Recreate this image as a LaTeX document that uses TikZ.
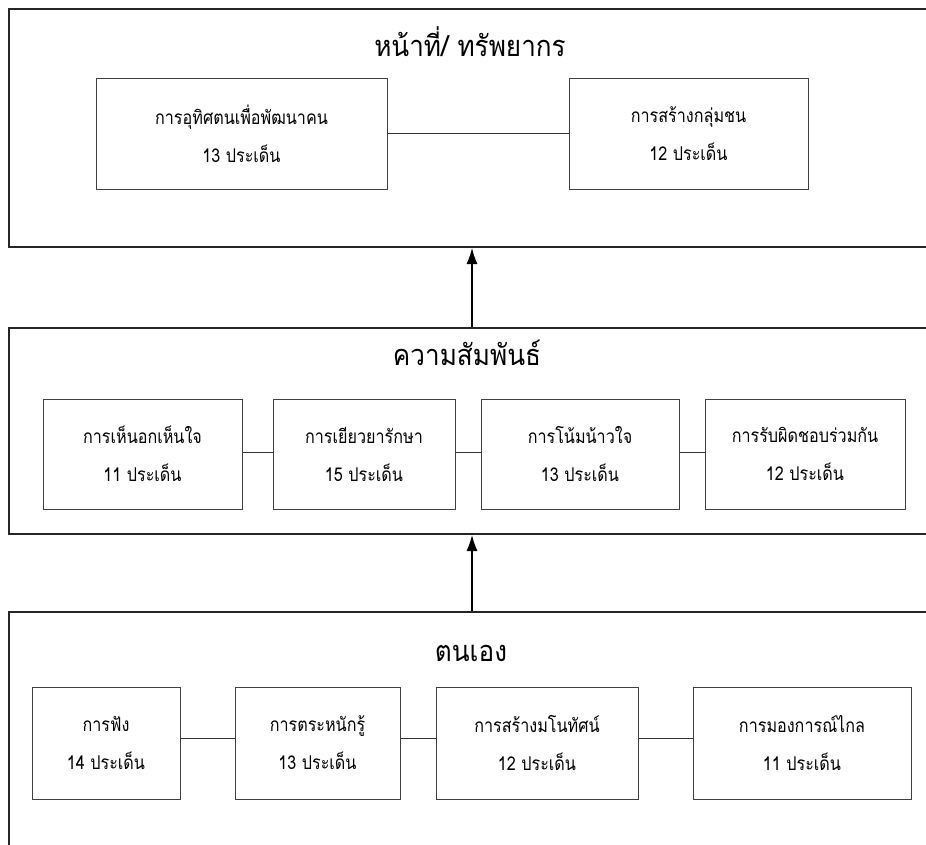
\documentclass[tikz,border=0pt]{standalone}
\usepackage{fontspec}
\newfontfamily\thai[Script=Thai,FakeStretch=0.85]{Loma}
\newfontfamily\thaittl[Script=Thai,FakeStretch=0.9]{Loma}
\usetikzlibrary{arrows.meta}
\tikzset{
  frame/.style={draw=black!85, line width=2pt, anchor=north west, inner sep=0pt},
  item/.style={draw=black!75, line width=1pt, align=center, inner sep=0pt,
    font=\thai\fontsize{19}{38}\selectfont},
  ttl/.style={font=\thaittl\fontsize{29}{32}\selectfont, inner sep=0pt},
  link/.style={draw=black!80, line width=1pt},
  up/.style={draw=black, line width=1.2pt, -{Latex[length=16pt,width=11pt]}}
}
\newcommand{\itembox}[6]{% name, x1, y1, x2, y2, text
  \node[item, minimum width={#4-#2}, minimum height={#5-#3}] (#1) at ({(#2+#4)/2},{(#3+#5)/2}) {#6};}
\begin{document}
\begin{tikzpicture}[x=1pt,y=-1pt]
\useasboundingbox (0,0) rectangle (926,844);
\clip (0,0) rectangle (926,844);
% frames
\node[frame, minimum width=960, minimum height=238] (f1) at (8,8) {};
\node[frame, minimum width=960, minimum height=206] (f2) at (8,327) {};
\node[frame, minimum width=960, minimum height=260] (f3) at (8,611) {};
% titles
\node[ttl] (t1) at (470,42) {หน้าที่/ ทรัพยากร};
\node[ttl] (t2) at (467,353) {ความสัมพันธ์};
\node[ttl] (t3) at (471,653) {ตนเอง};
% top row
\itembox{a1}{96}{78}{387}{189}{การอุทิศตนเพื่อพัฒนาคน\\13 ประเด็น}
\itembox{a2}{569}{78}{808}{189}{การสร้างกลุ่มชน\\12 ประเด็น}
% middle row
\itembox{b1}{43}{399}{242}{509}{การเห็นอกเห็นใจ\\11 ประเด็น}
\itembox{b2}{273}{399}{455}{509}{การเยียวยารักษา\\15 ประเด็น}
\itembox{b3}{481}{399}{679}{509}{การโน้มน้าวใจ\\13 ประเด็น}
\itembox{b4}{705}{399}{905}{509}{การรับผิดชอบร่วมกัน\\12 ประเด็น}
% bottom row
\itembox{c1}{32}{687}{180}{799}{การฟัง\\14 ประเด็น}
\itembox{c2}{235}{687}{400}{799}{การตระหนักรู้\\13 ประเด็น}
\itembox{c3}{436}{687}{638}{799}{การสร้างมโนทัศน์\\12 ประเด็น}
\itembox{c4}{693}{687}{911}{799}{การมองการณ์ไกล\\11 ประเด็น}
% connectors
\draw[link] (a1.east) -- (a2.west);
\draw[link] ([yshift=2pt]b1.east) -- ([yshift=2pt]b2.west);
\draw[link] ([yshift=2pt]b2.east) -- ([yshift=2pt]b3.west);
\draw[link] ([yshift=2pt]b3.east) -- ([yshift=2pt]b4.west);
\draw[link] ([yshift=5pt]c1.east) -- ([yshift=5pt]c2.west);
\draw[link] ([yshift=5pt]c2.east) -- ([yshift=5pt]c3.west);
\draw[link] ([yshift=5pt]c3.east) -- ([yshift=5pt]c4.west);
% arrows
\coordinate (ax) at (472,0);
\draw[up] (ax |- f2.north) -- (ax |- f1.south);
\draw[up] (ax |- f3.north) -- (ax |- f2.south);
\end{tikzpicture}
\end{document}
